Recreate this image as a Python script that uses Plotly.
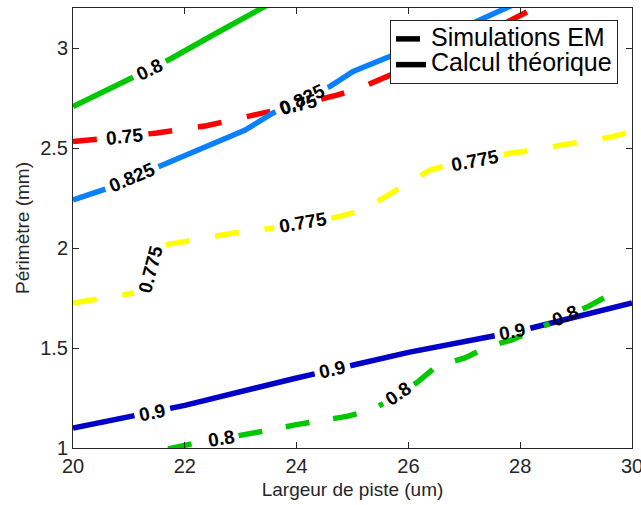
import math
import plotly.graph_objects as go

# ---------------- data ----------------
X_RANGE = [20, 30]
Y_RANGE = [1, 3.2]

# 0.8 - theoretical (green, solid)
green_calc_x = [20, 20.69, 21.05, 21.74, 22.6, 23.47, 24.0]
green_calc_y = [2.707, 2.80, 2.85, 2.945, 3.08, 3.213, 3.295]
green_calc_labels = [(21.365, 2.895, "0.8")]

# 0.75 - EM simulation (red, dashed)
red_sim_x = [20, 21.5, 22.39, 23.29, 24.0, 24.72, 25.13, 26.0, 27.0, 27.91, 28.4]
red_sim_y = [2.532, 2.575, 2.611, 2.667, 2.715, 2.764, 2.80, 2.90, 3.02, 3.15, 3.22]
red_sim_labels = [(20.93, 2.56, "0.75"), (24.03, 2.717, "0.75")]

# 0.825 - theoretical (light blue, solid)
blue_calc_x = [20, 20.54, 21.59, 22.4, 23.08, 23.58, 24.0, 24.60, 25.01, 25.43, 26.3, 27.16, 27.85, 28.1]
blue_calc_y = [2.24, 2.29, 2.413, 2.505, 2.59, 2.675, 2.73, 2.808, 2.883, 2.933, 3.03, 3.125, 3.213, 3.245]
blue_calc_labels = [(21.05, 2.353, "0.825"), (24.09, 2.742, "0.825")]

# 0.775 - EM simulation (yellow, dashed)
yellow_sim_x = [20, 20.44, 20.90, 21.29, 21.50, 21.91, 22.39, 22.87, 23.35, 24.0, 24.78, 25.19,
                25.61, 26.0, 26.39, 26.62, 27.2, 27.85, 28.29, 28.77, 29.19, 29.67, 30.0]
yellow_sim_y = [1.725, 1.745, 1.767, 1.783, 2.008, 2.028, 2.058, 2.075, 2.09, 2.12, 2.158, 2.19,
                2.258, 2.325, 2.39, 2.408, 2.44, 2.475, 2.49, 2.517, 2.533, 2.558, 2.583]
yellow_sim_labels = [(21.38, 1.895, "0.775"), (24.11, 2.127, "0.775"), (27.20, 2.44, "0.775")]

# 0.9 - theoretical (dark blue, solid)
navy_calc_x = [20, 22, 24, 26, 28, 30]
navy_calc_y = [1.10, 1.213, 1.35, 1.478, 1.586, 1.725]
navy_calc_labels = [(21.42, 1.178, "0.9"), (24.64, 1.392, "0.9"), (27.86, 1.583, "0.9")]

# 0.8 - EM simulation (green, dashed)
green_sim_x = [21.70, 22.15, 23.08, 23.52, 24.0, 24.42, 24.90, 25.34, 25.8, 26.18, 26.50, 27.01,
               27.43, 27.85, 28.26, 28.75, 29.22, 29.61]
green_sim_y = [0.995, 1.025, 1.067, 1.09, 1.117, 1.133, 1.158, 1.19, 1.26, 1.333, 1.408, 1.45,
               1.508, 1.54, 1.59, 1.65, 1.708, 1.767]
green_sim_labels = [(22.64, 1.05, "0.8"), (25.82, 1.272, "0.8"), (28.81, 1.663, "0.8")]

legend_names = ["Simulations EM", "Calcul théorique"]

# ---------------- layout geometry ----------------
W, H = 641, 505
M_L, M_R, M_T, M_B = 73, 9, 8, 57
PW, PH = W - M_L - M_R, H - M_T - M_B
SX = PW / (X_RANGE[1] - X_RANGE[0])
SY = PH / (Y_RANGE[1] - Y_RANGE[0])
LABEL_SIZE = 19
LINE_W = 5.5
FONT = "Arial, 'Liberation Sans', Helvetica, sans-serif"
AX_COLOR = "#262626"


def to_px(x, y):
    return ((x - X_RANGE[0]) * SX, (Y_RANGE[1] - y) * SY)


def from_px(px, py):
    return (X_RANGE[0] + px / SX, Y_RANGE[1] - py / SY)


def text_width(s):
    w = sum(0.278 if c == "." else 0.556 for c in s)
    return w * LABEL_SIZE


def cut_line(xs, ys, labels):
    """Leave a gap in the line under each of its contour labels (like clabel)."""
    pts = [to_px(x, y) for x, y in zip(xs, ys)]
    circles = [(to_px(lx, ly), text_width(t) / 2 + 5) for lx, ly, t in labels]
    ox, oy = [], []
    open_piece = False
    for i in range(len(pts) - 1):
        (px, py), (qx, qy) = pts[i], pts[i + 1]
        dx, dy = qx - px, qy - py
        removed = []
        for (cx, cy), r in circles:
            a = dx * dx + dy * dy
            b = 2 * (dx * (px - cx) + dy * (py - cy))
            c = (px - cx) ** 2 + (py - cy) ** 2 - r * r
            disc = b * b - 4 * a * c
            if a == 0 or disc <= 0:
                continue
            t1 = (-b - math.sqrt(disc)) / (2 * a)
            t2 = (-b + math.sqrt(disc)) / (2 * a)
            lo, hi = max(0.0, t1), min(1.0, t2)
            if lo < hi:
                removed.append((lo, hi))
        removed.sort()
        visible, cur = [], 0.0
        for lo, hi in removed:
            if lo > cur:
                visible.append((cur, lo))
            cur = max(cur, hi)
        if cur < 1.0:
            visible.append((cur, 1.0))
        if not visible:
            open_piece = False
        for a_, b_ in visible:
            if b_ - a_ < 1e-9:
                continue
            if not open_piece or a_ > 1e-9:
                if ox:
                    ox.append(None)
                    oy.append(None)
                x0, y0 = from_px(px + a_ * dx, py + a_ * dy)
                ox.append(x0)
                oy.append(y0)
            x1, y1 = from_px(px + b_ * dx, py + b_ * dy)
            ox.append(x1)
            oy.append(y1)
            open_piece = b_ >= 1 - 1e-9
    return ox, oy


def label_angle(xs, ys, lx, ly):
    pts = [to_px(x, y) for x, y in zip(xs, ys)]
    cx, cy = to_px(lx, ly)
    best, ang = None, 0
    for i in range(len(pts) - 1):
        (px, py), (qx, qy) = pts[i], pts[i + 1]
        dx, dy = qx - px, qy - py
        L2 = dx * dx + dy * dy
        t = max(0, min(1, ((cx - px) * dx + (cy - py) * dy) / L2))
        d = (px + t * dx - cx) ** 2 + (py + t * dy - cy) ** 2
        if best is None or d < best:
            best = d
            ang = math.degrees(math.atan2(dy, dx))
    if ang > 90:
        ang -= 180
    if ang < -90:
        ang += 180
    return ang


curves = [
    (green_calc_x, green_calc_y, green_calc_labels, "#00C800", "solid"),
    (red_sim_x, red_sim_y, red_sim_labels, "#FF0000", "24px,26px"),
    (blue_calc_x, blue_calc_y, blue_calc_labels, "#0A80FF", "solid"),
    (yellow_sim_x, yellow_sim_y, yellow_sim_labels, "#FFFF00", "24px,26px"),
    (navy_calc_x, navy_calc_y, navy_calc_labels, "#0000C8", "solid"),
    (green_sim_x, green_sim_y, green_sim_labels, "#00C800", "24px,24px"),
]

fig = go.Figure()
annotations = []
for xs, ys, labels, color, dash in curves:
    gx, gy = cut_line(xs, ys, labels)
    fig.add_trace(go.Scatter(x=gx, y=gy, mode="lines", showlegend=False,
                             line=dict(color=color, width=LINE_W, dash=dash),
                             connectgaps=False, hoverinfo="skip"))
    for lx, ly, t in labels:
        annotations.append(dict(x=lx, y=ly, xref="x", yref="y", text="<b>%s</b>" % t,
                                showarrow=False, textangle=label_angle(xs, ys, lx, ly),
                                font=dict(family=FONT, size=LABEL_SIZE, color="black"),
                                xanchor="center", yanchor="middle"))

# legend entries (big text, compact rows as in the reference)
LEG_TEXT = '<span style="font-size:25px">%s</span>'
fig.add_trace(go.Scatter(x=[None], y=[None], mode="lines", name=LEG_TEXT % legend_names[0],
                         line=dict(color="black", width=LINE_W, dash="24px,26px")))
fig.add_trace(go.Scatter(x=[None], y=[None], mode="lines", name=LEG_TEXT % legend_names[1],
                         line=dict(color="black", width=LINE_W)))

axis_common = dict(showgrid=False, zeroline=False, showline=True, mirror="ticks",
                   ticks="inside", ticklen=6, tickwidth=1, tickcolor=AX_COLOR,
                   linecolor=AX_COLOR, linewidth=1, ticklabeloverflow="allow",
                   automargin=False,
                   tickfont=dict(family=FONT, size=20, color=AX_COLOR))

fig.update_layout(
    width=W, height=H,
    margin=dict(l=M_L, r=M_R, t=M_T, b=M_B, autoexpand=False),
    paper_bgcolor="white", plot_bgcolor="white",
    font=dict(family=FONT, color=AX_COLOR),
    xaxis=dict(range=X_RANGE, dtick=2, tick0=20,
               title=dict(text="Largeur de piste (um)", font=dict(size=19, color=AX_COLOR), standoff=6),
               **axis_common),
    yaxis=dict(range=Y_RANGE, tickvals=[1, 1.5, 2, 2.5, 3], ticktext=["1", "1.5", "2", "2.5", "3"],
               title=dict(text="Périmètre (mm)", font=dict(size=19, color=AX_COLOR), standoff=5),
               **axis_common),
    legend=dict(x=(618 - M_L) / PW, xanchor="right", y=1 - (20 - M_T) / PH, yanchor="top",
                bgcolor="white", bordercolor=AX_COLOR, borderwidth=1,
                font=dict(family=FONT, size=17.5, color="black"), tracegroupgap=0,
                itemwidth=30),
    annotations=annotations,
)

fig.write_html("out.html", config={"displayModeBar": False},
               post_script="document.body.style.margin='0';document.body.style.padding='0';")
